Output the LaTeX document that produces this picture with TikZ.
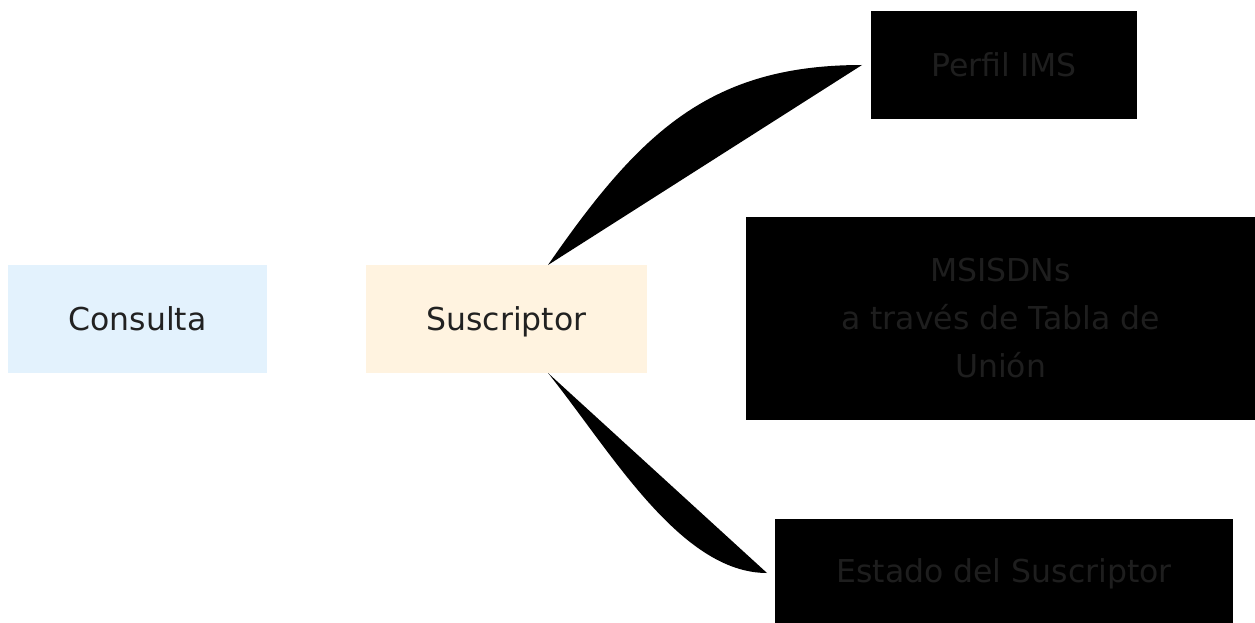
\documentclass[tikz,border=0pt]{standalone}
\usepackage{fontspec}
\setmainfont{DejaVu Sans}
\usetikzlibrary{calc}
\definecolor{qblue}{HTML}{E3F2FD}
\definecolor{sorange}{HTML}{FFF3E0}
\definecolor{txt}{HTML}{212121}
\definecolor{dtxt}{HTML}{1E1E1E}
\begin{document}
\begin{tikzpicture}[x=1pt,y=-1pt,
  box/.style={draw=none,inner sep=0pt,outer sep=0pt,font=\fontsize{31.5}{48}\selectfont,align=center},
  oneline/.style={text depth=0pt},
  light/.style={box,text=txt},
  dark/.style={box,fill=black,text=dtxt},
  lens/.style={fill=black,draw=none}]
\useasboundingbox (0,0) rectangle (1255,623);
\node[light,oneline,fill=qblue,minimum width=259pt,minimum height=108pt] (con) at (137.5,319) {Consulta};
\node[light,oneline,fill=sorange,minimum width=281pt,minimum height=108pt] (sus) at (506.5,319) {Suscriptor};
\node[dark,oneline,minimum width=266pt,minimum height=108pt] (ims) at (1004,65) {Perfil IMS};
\node[dark,minimum width=509pt,minimum height=203pt] (msi) at (1000.5,318.5) {MSISDNs\\a través de Tabla de\\Unión};
\node[dark,oneline,minimum width=458pt,minimum height=104pt] (est) at (1004,571) {Estado del Suscriptor};
\coordinate (t1) at ($(sus.north)+(41.5,0)$);
\coordinate (t2) at ($(ims.west)+(-9,0)$);
\coordinate (b1) at ($(sus.south)+(41.5,0)$);
\coordinate (b2) at ($(est.west)+(-8,2)$);
\fill[lens] (t1) .. controls (640,132) and (710,65) .. (t2) -- cycle;
\fill[lens] (b1) .. controls (610,450) and (680,573) .. (b2) -- cycle;
\end{tikzpicture}
\end{document}
